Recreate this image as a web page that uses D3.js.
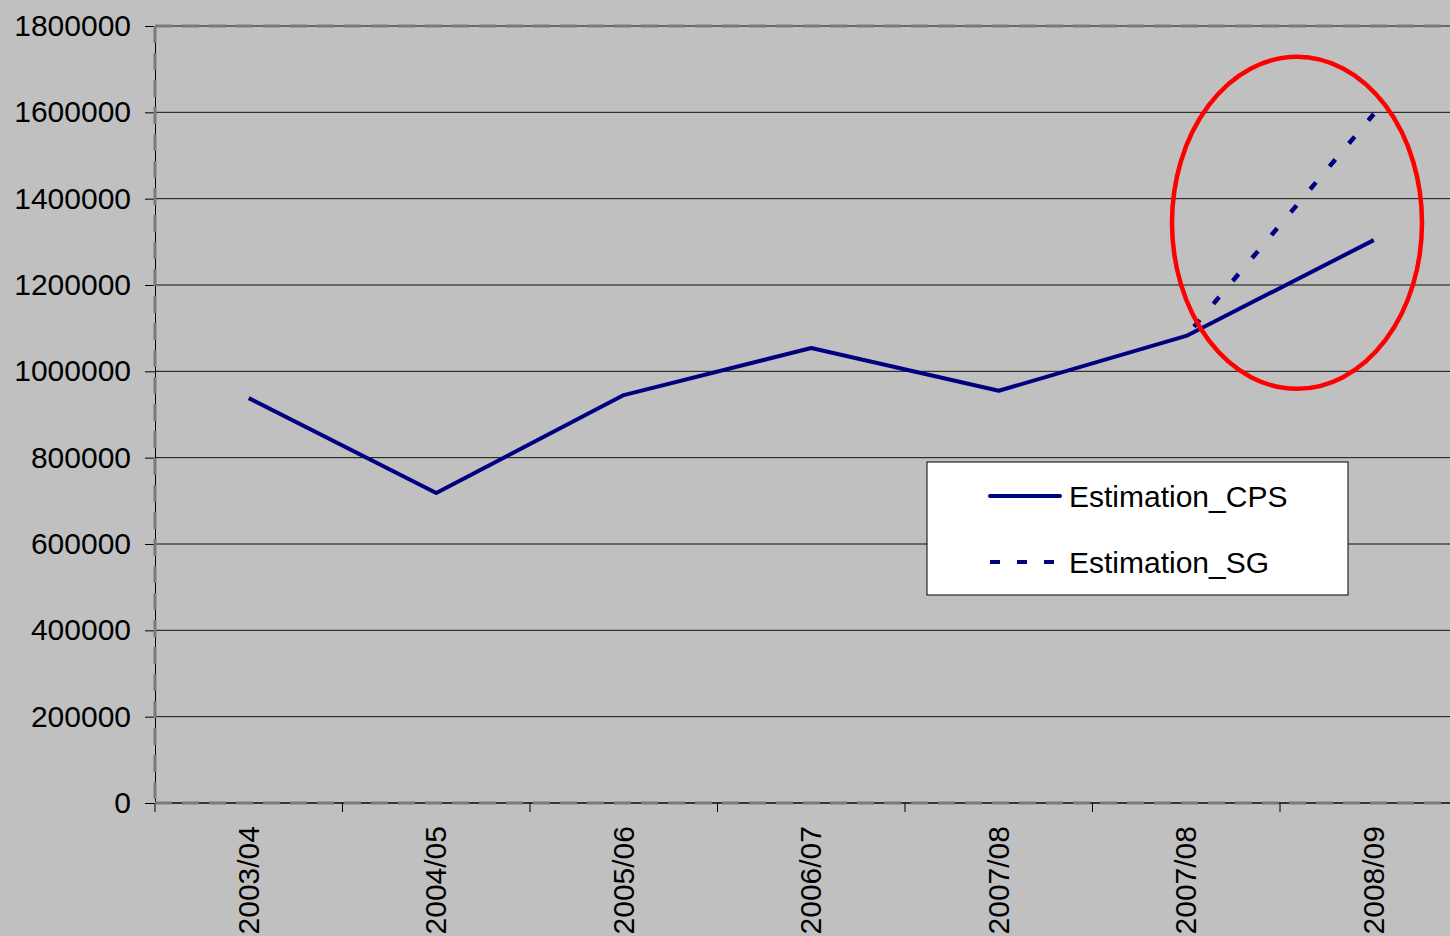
<!DOCTYPE html>
<html>
<head>
  <meta charset="utf-8">
  <title>Estimation CPS / SG</title>
  <script src="https://d3js.org/d3.v7.min.js"></script>
  <style>
    body { margin: 0; background: #c0c0c0; }
    svg { display: block; font-family: "Liberation Sans", Arial, sans-serif; }
    .grid line { stroke: #111; stroke-width: 1px; }
    .tick text { font-size: 30px; fill: #000; }
    .legend text { font-size: 30px; fill: #000; }
  </style>
</head>
<body>
  <svg width="1450" height="936"></svg>
  <script>
    // categories (the 2007/08 label appears twice in the source)
    const years = ["2003/04", "2004/05", "2005/06", "2006/07", "2007/08", "2007/08", "2008/09"];
    const cps = [938000, 718000, 945000, 1054000, 955000, 1082000, 1304000];
    const sg = [null, null, null, null, null, 1082000, 1596000];
    const yTicks = [0, 200000, 400000, 600000, 800000, 1000000, 1200000, 1400000, 1600000, 1800000];

    const svg = d3.select("svg");
    const plotL = 155, plotT = 26, plotB = 803, plotR = 1467.5;
    const idx = years.map((d, i) => i);

    const x = d3.scaleBand().domain(idx).range([plotL, plotR]).padding(0);
    const y = d3.scaleLinear().domain([0, 1800000]).range([plotB, plotT]);
    const cx = i => x(i) + x.bandwidth() / 2;

    // plot background
    svg.append("rect").attr("x", 0).attr("y", 0).attr("width", 1450).attr("height", 936).attr("fill", "#c0c0c0");

    // horizontal gridlines
    svg.append("g").attr("class", "grid")
      .selectAll("line").data(yTicks).enter().append("line")
      .attr("x1", plotL).attr("x2", plotR)
      .attr("y1", d => y(d)).attr("y2", d => y(d));

    // y axis
    const yAxis = svg.append("g")
      .attr("transform", `translate(${plotL},0)`)
      .call(d3.axisLeft(y).tickValues(yTicks).tickFormat(d3.format("d")).tickSize(10).tickPadding(14));
    yAxis.select(".domain").attr("stroke", "#000").attr("stroke-width", 1);
    yAxis.selectAll(".tick line").attr("stroke", "#000");

    // x axis: ticks on the band boundaries, labels rotated
    const xAxis = svg.append("g").attr("transform", `translate(0,${plotB})`);
    xAxis.append("line").attr("x1", plotL).attr("x2", plotR).attr("stroke", "#000");
    xAxis.selectAll(".xt").data(d3.range(years.length + 1)).enter().append("line")
      .attr("class", "xt")
      .attr("x1", i => plotL + i * x.bandwidth()).attr("x2", i => plotL + i * x.bandwidth())
      .attr("y1", 0).attr("y2", 9).attr("stroke", "#000");
    xAxis.selectAll("text").data(idx).enter().append("text")
      .attr("transform", i => `translate(${cx(i) + 10},23) rotate(-90)`)
      .attr("text-anchor", "end")
      .style("font-size", "30px")
      .text(i => years[i]);

    // grey dashed plot-area border
    const border = svg.append("g")
      .attr("fill", "none").attr("stroke", "#7a7a7a").attr("stroke-width", 3)
      .attr("stroke-dasharray", "17,10");
    border.append("line").attr("x1", plotL).attr("x2", plotR).attr("y1", plotT).attr("y2", plotT);
    border.append("line").attr("x1", plotL).attr("x2", plotR).attr("y1", plotB).attr("y2", plotB);
    border.append("line").attr("x1", plotL).attr("x2", plotL).attr("y1", plotT).attr("y2", plotB);

    const line = d3.line()
      .defined(d => d[1] != null)
      .x(d => cx(d[0]))
      .y(d => y(d[1]));

    // Estimation_SG (dashed)
    svg.append("path")
      .datum(sg.map((v, i) => [i, v]))
      .attr("d", line)
      .attr("fill", "none").attr("stroke", "#000080").attr("stroke-width", 4.5)
      .attr("stroke-dasharray", "9,21").attr("stroke-dashoffset", -12);

    // Estimation_CPS (solid)
    svg.append("path")
      .datum(cps.map((v, i) => [i, v]))
      .attr("d", line)
      .attr("fill", "none").attr("stroke", "#000080").attr("stroke-width", 4)
      .attr("stroke-linejoin", "round");

    // red ellipse highlighting the last step
    svg.append("ellipse")
      .attr("cx", (cx(5) + cx(6)) / 2 + 17)
      .attr("cy", y(1344000))
      .attr("rx", 125).attr("ry", 166)
      .attr("fill", "none").attr("stroke", "#ff0000").attr("stroke-width", 4.5);

    // legend
    const lg = svg.append("g").attr("class", "legend").attr("transform", "translate(927,462)");
    lg.append("rect").attr("width", 421).attr("height", 133)
      .attr("fill", "#fff").attr("stroke", "#000").attr("stroke-width", 1);
    const items = [
      { name: "Estimation_CPS", dash: null, yy: 34 },
      { name: "Estimation_SG", dash: "10,17", yy: 100 }
    ];
    items.forEach(it => {
      lg.append("line").attr("x1", 63).attr("x2", 133).attr("y1", it.yy).attr("y2", it.yy)
        .attr("stroke", "#000080").attr("stroke-width", 4)
        .attr("stroke-linecap", it.dash ? "butt" : "round")
        .attr("stroke-dasharray", it.dash);
      lg.append("text").attr("x", 142).attr("y", it.yy + 11).text(it.name);
    });
  </script>
</body>
</html>
